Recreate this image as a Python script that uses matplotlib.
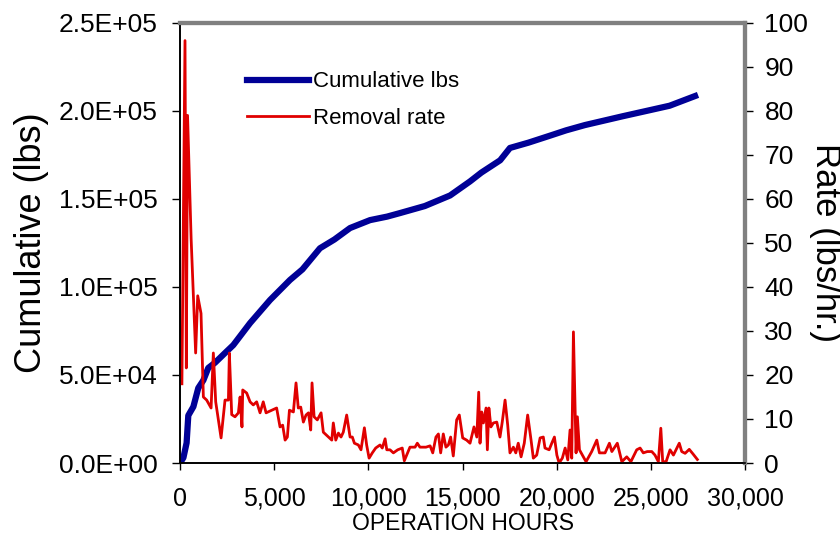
import matplotlib.pyplot as plt
from matplotlib.ticker import FuncFormatter, MultipleLocator

plt.rcParams['font.family'] = ['Liberation Sans', 'DejaVu Sans']

# cumulative removal (lbs) vs operation hours
cum_hours = [0, 180, 350, 440, 710, 970, 1240, 1500, 1860, 2390, 2830, 3720,
             4780, 5840, 6500, 7430, 8200, 9030, 10090, 11000, 11680, 13000,
             14340, 15400, 16000, 17000, 17520, 18500, 19650, 20500, 21500,
             22300, 23500, 24960, 26000, 27350]
cum_lbs = [0, 3000, 11400, 27000, 32000, 42600, 47000, 54000, 57000, 62500,
           67000, 79500, 92600, 104000, 110000, 122000, 127000, 133500, 138000,
           140000, 142000, 146000, 152000, 160000, 165000, 172000, 179000,
           182000, 186000, 189000, 192000, 194000, 197000, 200500, 203000,
           208500]

# removal rate (lbs/hr)
rate_hours = [100, 265, 335, 400, 590, 830, 940, 1115, 1240, 1415, 1650, 1770,
              1895, 2180, 2390, 2570, 2620, 2745, 2920, 3100, 3190, 3290, 3330,
              3540, 3720, 3890, 4070, 4250, 4420, 4570, 4870, 5130, 5310, 5450,
              5580, 5700, 5810, 6020, 6160, 6280, 6410, 6550, 6690, 6820, 6940,
              7010, 7120, 7290, 7490, 7610, 7880, 8060, 8140, 8270, 8410, 8550,
              8670, 8850, 9030, 9150, 9260, 9470, 9610, 9790, 9910, 10040,
              10210, 10390, 10620, 10740, 10890, 10980, 11150, 11330, 11560,
              11800, 11910, 12210, 12480, 12600, 12740, 13060, 13280, 13420,
              13590, 13720, 13840, 13980, 14120, 14250, 14370, 14510, 14690,
              14830, 15010, 15220, 15400, 15610, 15760, 15860, 15930, 16020,
              16110, 16250, 16320, 16400, 16510, 16640, 16820, 16990, 17110,
              17260, 17400, 17520, 17700, 17830, 17960, 18110, 18280, 18460,
              18640, 18760, 18940, 19120, 19290, 19380, 19600, 19740, 19880,
              20010, 20130, 20300, 20450, 20590, 20710, 20800, 20890, 21030,
              21100, 21210, 21560, 21860, 22130, 22270, 22570, 22800, 22930,
              23220, 23460, 23720, 23940, 24250, 24430, 24600, 24810, 25050,
              25220, 25400, 25530, 25630, 25810, 26020, 26200, 26510, 26640,
              26820, 27040, 27250, 27470]
rate = [18, 96, 21.6, 79, 51, 25, 38, 34, 15, 14.3, 12.5, 25,
        13.9, 5.7, 14.3, 14.3, 25, 11, 10.5, 11.4, 15, 8.2, 16.6,
        15.9, 13.9, 13.2, 13.9, 11.4, 13.9, 11.4, 12, 12.5, 8.2, 8.6,
        5.2, 5.9, 12, 11.6, 18.2, 12.5, 12.7, 9.3, 10.9, 11.4, 7.5,
        18.2, 10.5, 9.8, 11.4, 7, 5.9, 5.2, 9.1, 5.2, 6.8, 5.9,
        7, 10.9, 5.9, 5.9, 4.5, 4.1, 3, 8, 4.1, 1.1,
        2.3, 3.4, 4.1, 3.4, 5.5, 3, 3, 2.3, 3,
        3.4, 0.5, 3.6, 3.6, 4.5, 3.6, 3.6, 3.9, 2.3,
        5.9, 6.6, 2.3, 6.6, 3.6, 4.1, 5.9, 1.6, 9.8,
        10.9, 5.7, 5.2, 4.5, 8.2, 5.9, 16.1, 4.5, 11.6,
        9.1, 12.5, 3, 12.5, 8.2, 9.1, 9.3, 5.9, 9.3,
        14.3, 8.6, 2.3, 3.6, 2.3, 4.5, 1.4, 4.5, 10.9,
        5.2, 1.1, 1.8, 5.7, 5.9, 3.4, 3, 4.5, 5.9,
        1.8, 0, 1.1, 3.4, 0.7, 7.5, 1.1, 29.8, 2.3,
        10.5, 3, 0.3, 2.6, 5.2, 2.3, 2.3, 4.5, 2.6,
        4.5, 0.3, 1.4, 0.3, 3, 3.4, 2.3, 2.6, 2.6,
        1.8, 0.3, 7.9, 0.3, 0.3, 3, 1.8, 4.5, 2.6,
        2.2, 3.1, 2, 0.8]

BLUE = '#000096'
RED = '#e00000'

fig = plt.figure(figsize=(8.4, 5.37), dpi=100)
ax = fig.add_axes([0.2143, 0.1378, 0.6726, 0.8194])
ax2 = ax.twinx()

l1, = ax.plot(cum_hours, cum_lbs, color=BLUE, lw=4.5, solid_joinstyle='round',
              label='Cumulative lbs')
l2, = ax2.plot(rate_hours, rate, color=RED, lw=2.0, label='Removal rate')

ax.set_xlim(0, 30000)
ax.set_ylim(0, 250000)
ax2.set_ylim(0, 100)

ax.xaxis.set_major_locator(MultipleLocator(5000))
ax.xaxis.set_major_formatter(FuncFormatter(lambda v, p: f'{int(v):,}'))
ax.yaxis.set_major_locator(MultipleLocator(50000))
ax.yaxis.set_major_formatter(FuncFormatter(lambda v, p: f'{v:.1E}'))
ax2.yaxis.set_major_locator(MultipleLocator(10))

ax.tick_params(axis='x', direction='out', length=5, width=1, pad=12,
               labelsize=18)
ax.tick_params(axis='y', direction='out', length=6, width=1, pad=10,
               labelsize=19)
ax2.tick_params(axis='y', direction='out', length=6, width=1, pad=8,
                labelsize=19)

for a in (ax, ax2):
    a.spines['top'].set_color('#808080')
    a.spines['top'].set_linewidth(3)
    a.spines['right'].set_color('#808080')
    a.spines['right'].set_linewidth(3)
    a.spines['left'].set_linewidth(1.2)
    a.spines['bottom'].set_linewidth(1.2)

ax.set_xlabel('OPERATION HOURS', fontsize=16.5, labelpad=1)
ax.set_ylabel('Cumulative (lbs)', fontsize=26, labelpad=7)
ax2.set_ylabel('Rate (lbs/hr.)', fontsize=25, rotation=270, labelpad=24)

ax2.legend([l1, l2], ['Cumulative lbs', 'Removal rate'], loc='upper left',
           bbox_to_anchor=(0.118, 0.89), frameon=False, fontsize=16,
           handlelength=2.8, handletextpad=0.2, labelspacing=0.7,
           borderpad=0, borderaxespad=0)

fig.savefig('out.png', dpi=100)
